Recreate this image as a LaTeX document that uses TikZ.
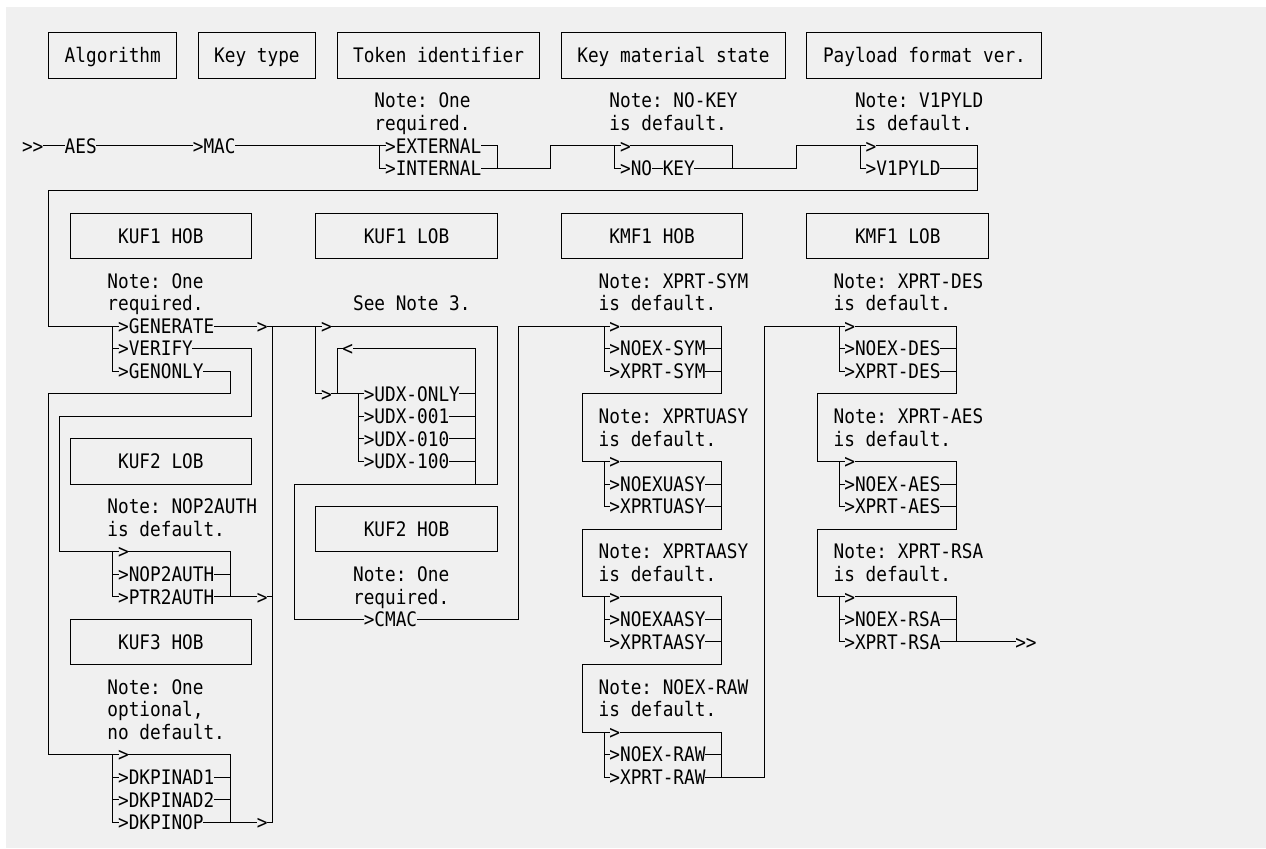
\documentclass[tikz,border=0pt]{standalone}
\usepackage{fontspec}
\newfontfamily\dmono[FakeStretch=0.887]{DejaVu Sans Mono}
\frenchspacing
\definecolor{bgc}{RGB}{240,240,240}
\tikzset{
  lbl/.style={anchor=west, inner sep=0pt, outer sep=0pt,
    font={\dmono\fontsize{20pt}{22pt}\selectfont}, text height=14.58pt, text depth=0pt},
  bx/.style={draw, line width=1pt, inner sep=0pt, outer sep=0pt,
    minimum width=#1*10.68pt, minimum height=45.1pt,
    font={\dmono\fontsize{20pt}{22pt}\selectfont}, text height=14.58pt, text depth=0pt},
  wire/.style={line width=1pt, line join=miter, line cap=rect}
}
\newcommand\Txt[4]{\node[lbl] (#1) at (#2,#3) {#4};}
\newcommand\Bx[5]{\node[bx=#4] (#1) at (#2,#3) {#5};}
\begin{document}
\begin{tikzpicture}[x=10.68pt, y=-22.55pt]
\path[use as bounding box] (-2.0599,-0.46341) rectangle (116.479,37.1419);
\fill[bgc] (-1.498,-0.153) rectangle (116.479,37.1419);

% ---- top boxes
\Bx{bAlg}{8.5}{2}{12}{Algorithm}
\Bx{bKt}{22}{2}{11}{Key type}
\Bx{bTok}{39}{2}{19}{Token identifier}
\Bx{bKms}{61}{2}{21}{Key material state}
\Bx{bPay}{84.5}{2}{22}{Payload format ver.}

% ---- first line texts
\Txt{n1a}{33}{4}{Note: One}
\Txt{n2a}{55}{4}{Note: NO-KEY}
\Txt{n3a}{78}{4}{Note: V1PYLD}
\Txt{n1b}{33}{5}{required.}
\Txt{n2b}{55}{5}{is default.}
\Txt{n3b}{78}{5}{is default.}
\Txt{ss}{0}{6}{>>}
\Txt{aes}{4}{6}{AES}
\Txt{mac}{16}{6}{>MAC}
\Txt{ext}{34}{6}{>EXTERNAL}
\Txt{gtA}{56}{6}{>}
\Txt{gtB}{79}{6}{>}
\Txt{int}{34}{7}{>INTERNAL}
\Txt{nk1}{56}{7}{>NO}
\Txt{nk2}{60}{7}{KEY}
\Txt{v1}{79}{7}{>V1PYLD}

% ---- second part boxes
\Bx{bK1h}{13}{10}{17}{KUF1 HOB}
\Bx{bK1l}{36}{10}{17}{KUF1 LOB}
\Bx{bM1h}{59}{10}{17}{KMF1 HOB}
\Bx{bM1l}{82}{10}{17}{KMF1 LOB}
\Bx{bK2l}{13}{20}{17}{KUF2 LOB}
\Bx{bK2h}{36}{23}{17}{KUF2 HOB}
\Bx{bK3h}{13}{28}{17}{KUF3 HOB}

% ---- texts
\Txt{k1na}{8}{12}{Note: One}
\Txt{s1na}{54}{12}{Note: XPRT-SYM}
\Txt{d1na}{76}{12}{Note: XPRT-DES}
\Txt{k1nb}{8}{13}{required.}
\Txt{see}{31}{13}{See Note 3.}
\Txt{s1nb}{54}{13}{is default.}
\Txt{d1nb}{76}{13}{is default.}
\Txt{gen}{9}{14}{>GENERATE}
\Txt{gtC}{22}{14}{>}
\Txt{gtD}{28}{14}{>}
\Txt{h1gt}{55}{14}{>}
\Txt{l1gt}{77}{14}{>}
\Txt{ver}{9}{15}{>VERIFY}
\Txt{lt}{30}{15}{<}
\Txt{ns}{55}{15}{>NOEX-SYM}
\Txt{nd}{77}{15}{>NOEX-DES}
\Txt{gon}{9}{16}{>GENONLY}
\Txt{xs}{55}{16}{>XPRT-SYM}
\Txt{xd}{77}{16}{>XPRT-DES}
\Txt{gtE}{28}{17}{>}
\Txt{u1}{32}{17}{>UDX-ONLY}
\Txt{u2}{32}{18}{>UDX-001}
\Txt{s2na}{54}{18}{Note: XPRTUASY}
\Txt{d2na}{76}{18}{Note: XPRT-AES}
\Txt{u3}{32}{19}{>UDX-010}
\Txt{s2nb}{54}{19}{is default.}
\Txt{d2nb}{76}{19}{is default.}
\Txt{u4}{32}{20}{>UDX-100}
\Txt{h2gt}{55}{20}{>}
\Txt{l2gt}{77}{20}{>}
\Txt{nu}{55}{21}{>NOEXUASY}
\Txt{nae}{77}{21}{>NOEX-AES}
\Txt{k2na}{8}{22}{Note: NOP2AUTH}
\Txt{xu}{55}{22}{>XPRTUASY}
\Txt{xae}{77}{22}{>XPRT-AES}
\Txt{k2nb}{8}{23}{is default.}
\Txt{k2gt}{9}{24}{>}
\Txt{s3na}{54}{24}{Note: XPRTAASY}
\Txt{d3na}{76}{24}{Note: XPRT-RSA}
\Txt{nop}{9}{25}{>NOP2AUTH}
\Txt{h2na}{31}{25}{Note: One}
\Txt{s3nb}{54}{25}{is default.}
\Txt{d3nb}{76}{25}{is default.}
\Txt{ptr}{9}{26}{>PTR2AUTH}
\Txt{gtF}{22}{26}{>}
\Txt{h2nb}{31}{26}{required.}
\Txt{h3gt}{55}{26}{>}
\Txt{l3gt}{77}{26}{>}
\Txt{cmac}{32}{27}{>CMAC}
\Txt{na}{55}{27}{>NOEXAASY}
\Txt{nrs}{77}{27}{>NOEX-RSA}
\Txt{xa}{55}{28}{>XPRTAASY}
\Txt{xrs}{77}{28}{>XPRT-RSA}
\Txt{fin}{93}{28}{>>}
\Txt{k3na}{8}{30}{Note: One}
\Txt{s4na}{54}{30}{Note: NOEX-RAW}
\Txt{k3nb}{8}{31}{optional,}
\Txt{s4nb}{54}{31}{is default.}
\Txt{k3nc}{8}{32}{no default.}
\Txt{h4gt}{55}{32}{>}
\Txt{k3gt}{9}{33}{>}
\Txt{nr}{55}{33}{>NOEX-RAW}
\Txt{dk1}{9}{34}{>DKPINAD1}
\Txt{xr}{55}{34}{>XPRT-RAW}
\Txt{dk2}{9}{35}{>DKPINAD2}
\Txt{dk3}{9}{36}{>DKPINOP}
\Txt{gtG}{22}{36}{>}

% ---- wires: first line
\draw[wire] (ss.east) -- (aes.west);
\draw[wire] (aes.east) -- (mac.west);
\draw[wire] (mac.east) -- (ext.west);
\draw[wire] (33.5,6) |- (int.west);
\draw[wire] (ext.east) -| (44.5,7);
\draw[wire] (int.east) -| (49.5,6) -- (gtA.west);
\draw[wire] (55.5,6) |- (nk1.west);
\draw[wire] (nk1.east) -- (nk2.west);
\draw[wire] (gtA.east) -| (66.5,7);
\draw[wire] (nk2.east) -| (72.5,6) -- (gtB.west);
\draw[wire] (78.5,6) |- (v1.west);
\draw[wire] (gtB.east) -| (89.5,8) -| (2.5,14) -- (gen.west);
\draw[wire] (v1.east) -- (89.5,7);

% ---- KUF1 HOB
\draw[wire] (8.5,14) |- (ver.west);
\draw[wire] (8.5,15) |- (gon.west);
\draw[wire] (gen.east) -- (gtC.west);
\draw[wire] (gtC.east) -- (gtD.west);
\draw[wire] (ver.east) -| (21.5,18) -| (3.5,24) -- (k2gt.west);
\draw[wire] (gon.east) -| (19.5,17) -| (2.5,33) -- (k3gt.west);

% ---- KUF1 LOB
\draw[wire] (27.5,14) |- (gtE.west);
\draw[wire] (gtE.east) -- (u1.west);
\draw[wire] (29.5,17) |- (lt.west);
\draw[wire] (lt.east) -| (42.5,21);
\draw[wire] (31.5,17) |- (u4.west);
\draw[wire] (31.5,18) -- (u2.west);
\draw[wire] (31.5,19) -- (u3.west);
\draw[wire] (u1.east) -- (42.5,17);
\draw[wire] (u2.east) -- (42.5,18);
\draw[wire] (u3.east) -- (42.5,19);
\draw[wire] (u4.east) -- (42.5,20);
\draw[wire] (gtD.east) -| (44.5,21) -| (25.5,27) -- (cmac.west);

% ---- KUF2 LOB
\draw[wire] (8.5,24) |- (ptr.west);
\draw[wire] (8.5,25) -- (nop.west);
\draw[wire] (k2gt.east) -| (19.5,26);
\draw[wire] (nop.east) -- (19.5,25);
\draw[wire] (ptr.east) -- (gtF.west);
\draw[wire] (gtF.east) -- (23.5,26);

% ---- KUF3 HOB
\draw[wire] (8.5,33) |- (dk3.west);
\draw[wire] (8.5,34) -- (dk1.west);
\draw[wire] (8.5,35) -- (dk2.west);
\draw[wire] (k3gt.east) -| (19.5,36);
\draw[wire] (dk1.east) -- (19.5,34);
\draw[wire] (dk2.east) -- (19.5,35);
\draw[wire] (dk3.east) -- (gtG.west);
\draw[wire] (gtG.east) -- (23.5,36) -- (23.5,14);

% ---- KMF1 HOB
\draw[wire] (cmac.east) -| (46.5,14) -- (h1gt.west);
\draw[wire] (54.5,14) |- (xs.west);
\draw[wire] (54.5,15) -- (ns.west);
\draw[wire] (ns.east) -- (65.5,15);
\draw[wire] (xs.east) -- (65.5,16);
\draw[wire] (h1gt.east) -| (65.5,17) -| (52.5,20) -- (h2gt.west);
\draw[wire] (54.5,20) |- (xu.west);
\draw[wire] (54.5,21) -- (nu.west);
\draw[wire] (nu.east) -- (65.5,21);
\draw[wire] (xu.east) -- (65.5,22);
\draw[wire] (h2gt.east) -| (65.5,23) -| (52.5,26) -- (h3gt.west);
\draw[wire] (54.5,26) |- (xa.west);
\draw[wire] (54.5,27) -- (na.west);
\draw[wire] (na.east) -- (65.5,27);
\draw[wire] (xa.east) -- (65.5,28);
\draw[wire] (h3gt.east) -| (65.5,29) -| (52.5,32) -- (h4gt.west);
\draw[wire] (54.5,32) |- (xr.west);
\draw[wire] (54.5,33) -- (nr.west);
\draw[wire] (nr.east) -- (65.5,33);
\draw[wire] (h4gt.east) -| (65.5,34);
\draw[wire] (xr.east) -| (69.5,14) -- (l1gt.west);

% ---- KMF1 LOB
\draw[wire] (76.5,14) |- (xd.west);
\draw[wire] (76.5,15) -- (nd.west);
\draw[wire] (nd.east) -- (87.5,15);
\draw[wire] (xd.east) -- (87.5,16);
\draw[wire] (l1gt.east) -| (87.5,17) -| (74.5,20) -- (l2gt.west);
\draw[wire] (76.5,20) |- (xae.west);
\draw[wire] (76.5,21) -- (nae.west);
\draw[wire] (nae.east) -- (87.5,21);
\draw[wire] (xae.east) -- (87.5,22);
\draw[wire] (l2gt.east) -| (87.5,23) -| (74.5,26) -- (l3gt.west);
\draw[wire] (76.5,26) |- (xrs.west);
\draw[wire] (76.5,27) -- (nrs.west);
\draw[wire] (nrs.east) -- (87.5,27);
\draw[wire] (l3gt.east) -| (87.5,28);
\draw[wire] (xrs.east) -- (fin.west);
\end{tikzpicture}
\end{document}
